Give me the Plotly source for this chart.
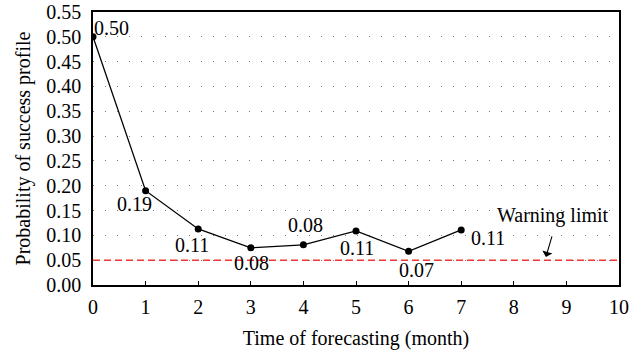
import plotly.graph_objects as go

months = [0, 1, 2, 3, 4, 5, 6, 7]
probability = [0.50, 0.19, 0.113, 0.075, 0.081, 0.109, 0.068, 0.111]
labels = ["0.50", "0.19", "0.11", "0.08", "0.08", "0.11", "0.07", "0.11"]
warning_limit = 0.05
x_ticks = list(range(0, 11))
y_ticks = [round(0.05 * i, 2) for i in range(12)]

label_offsets = [(18, 9), (-11, -13), (-6, -16), (1, -15), (2, 20), (1, -17), (8, -19), (27, -8)]

FONT = "Liberation Serif"
FS = 20

fig = go.Figure()
fig.add_trace(go.Scatter(
    x=[0, 10], y=[warning_limit, warning_limit], mode="lines",
    line=dict(color="#f03535", width=1.4, dash="7px,4px"), hoverinfo="skip", showlegend=False))
fig.add_trace(go.Scatter(
    x=months, y=probability, mode="lines+markers",
    line=dict(color="black", width=1.3),
    marker=dict(color="black", size=7), showlegend=False))

annotations = []
for xv, yv, t, (dx, dy) in zip(months, probability, labels, label_offsets):
    annotations.append(dict(x=xv, y=yv, xref="x", yref="y", text=t, showarrow=False,
                            xshift=dx, yshift=dy, font=dict(family=FONT, size=FS, color="black")))
annotations.append(dict(x=8.75, y=0.141, xref="x", yref="y", text="Warning limit", showarrow=False,
                        font=dict(family=FONT, size=FS, color="black")))
annotations.append(dict(x=8.61, y=0.0565, xref="x", yref="y", text="", showarrow=True,
                        ax=6.5, ay=-22, arrowhead=1, arrowsize=1.6, arrowwidth=1.1, arrowcolor="black"))

fig.update_layout(
    width=639, height=353,
    margin=dict(l=93, r=20, t=12, b=68),
    plot_bgcolor="white", paper_bgcolor="white",
    font=dict(family=FONT, size=FS, color="black"),
    annotations=annotations,
    xaxis=dict(range=[0, 10], tickvals=x_ticks, showgrid=False, zeroline=False,
               showline=True, linecolor="black", linewidth=1.5, mirror=True,
               ticks="inside", ticklen=4, tickcolor="black", automargin=False,
               ticklabelstandoff=3, ticklabeloverflow="allow",
               title=dict(text="Time of forecasting (month)", font=dict(family=FONT, size=FS), standoff=14)),
    yaxis=dict(range=[0, 0.55], tickvals=y_ticks, tickformat=".2f",
               showgrid=True, gridcolor="#777777", gridwidth=1, griddash="1px,11px",
               zeroline=False, showline=True, linecolor="black", linewidth=1.5, mirror=True,
               ticks="", automargin=False, ticklabelstandoff=6, ticklabeloverflow="allow",
               title=dict(text="Probability of success profile", font=dict(family=FONT, size=FS), standoff=10)),
)
fig.write_html("out.html", config={"displayModeBar": False},
               post_script="document.body.style.margin='0';")
